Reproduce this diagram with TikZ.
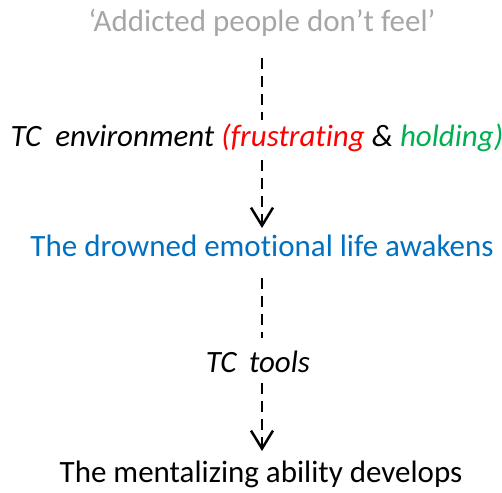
\documentclass[tikz,border=0pt]{standalone}
\usepackage{fontspec}
\setmainfont[RawFeature=-liga]{Carlito}
\usetikzlibrary{arrows.meta}
\definecolor{txtgray}{RGB}{166,166,166}
\definecolor{txtred}{RGB}{255,0,0}
\definecolor{txtgreen}{RGB}{0,176,80}
\definecolor{txtblue}{RGB}{0,112,192}
\tikzset{
  lbl/.style={font=\fontsize{31}{36}\selectfont, inner sep=0pt},
  step line/.style={line width=2.7pt, dash pattern=on 11pt off 7pt},
  step arrow/.style={step line, -{Straight Barb[length=18pt,width=22pt,line width=2.5pt]}}
}
\begin{document}
\begin{tikzpicture}[x=1pt,y=-1pt]
    \useasboundingbox (0,0) rectangle (502,492);
    \node[lbl, text=txtgray] (feel) at (262,23) {‘Addicted people don’t feel’};
    \node[lbl] (env) at (257,138) {\itshape TC\ \ environment \textcolor{txtred}{(frustrating} \& \textcolor{txtgreen}{holding)}};
    \node[lbl, text=txtblue] (awake) at (262,246) {The drowned emotional life awakens};
    \node[lbl] (tools) at (258,362) {\itshape TC\hspace{0.4em}tools};
    \node[lbl] (ment) at (261,474) {The mentalizing ability develops};
    \coordinate (c1) at (262,58);
    \coordinate (c2) at (262,120);
    \coordinate (c3) at (262,160);
    \coordinate (c4) at (262,228);
    \coordinate (c5) at (262,278);
    \coordinate (c6) at (262,338);
    \coordinate (c7) at (262,383);
    \coordinate (c8) at (262,451);
    \draw[step line] (c1) -- (c2);
    \draw[step arrow] (c3) -- (c4);
    \draw[step line] (c5) -- (c6);
    \draw[step arrow] (c7) -- (c8);
\end{tikzpicture}
\end{document}
